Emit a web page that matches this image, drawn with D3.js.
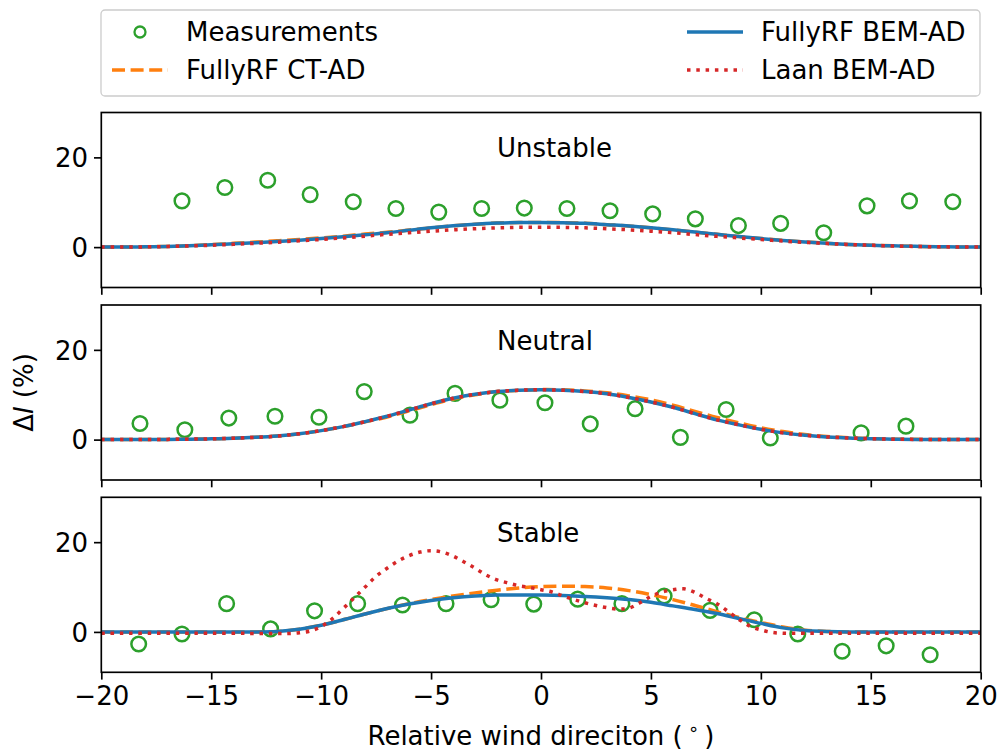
<!DOCTYPE html>
<html><head><meta charset="utf-8">
<script src="https://cdn.jsdelivr.net/npm/d3@7"></script>
<style>body{margin:0;background:#fff}svg{display:block}text{font-family:"DejaVu Sans",sans-serif}</style>
</head><body><svg id="c" width="999" height="753"></svg>
<script>
// ---------- DATA ----------
const xGrid = [-20,-19,-18,-17,-16,-15,-14,-13,-12,-11,-10,-9,-8,-7,-6,-5,-4,-3,-2,-1,0,1,2,3,4,5,6,7,8,9,10,11,12,13,14,15,16,17,18,19,20];
const xTicks = [-20,-15,-10,-5,0,5,10,15,20];
const yTicks = [0,20];
const panelNames = ["Unstable","Neutral","Stable"];
const seriesNames = ["Measurements","FullyRF CT-AD","FullyRF BEM-AD","Laan BEM-AD"];

// Unstable
const measUnstableX = [-16.33,-14.38,-12.43,-10.5,-8.54,-6.6,-4.65,-2.7,-0.76,1.18,3.14,5.08,7.02,8.98,10.9,12.86,14.83,16.76,18.73];
const measUnstableY = [10.3,13.3,14.9,11.7,10.1,8.6,7.8,8.6,8.7,8.6,8.1,7.4,6.3,4.8,5.3,3.2,9.2,10.3,10.1];
const ctUnstable  = [0,0.02,0.07,0.16,0.32,0.55,0.85,1.12,1.4,1.7,2.05,2.45,2.9,3.3,3.8,4.3,4.75,5.1,5.35,5.5,5.5,5.45,5.3,5.0,4.7,4.3,3.85,3.35,2.85,2.35,1.9,1.5,1.15,0.85,0.6,0.42,0.28,0.17,0.09,0.04,0];
const bemUnstable = [0,0.02,0.06,0.15,0.3,0.5,0.75,1.0,1.25,1.55,1.9,2.3,2.75,3.2,3.75,4.3,4.75,5.1,5.35,5.5,5.5,5.45,5.3,5.0,4.7,4.3,3.85,3.35,2.85,2.35,1.9,1.5,1.15,0.85,0.6,0.42,0.28,0.17,0.09,0.04,0];
const laanUnstable = [0,0.02,0.06,0.13,0.25,0.42,0.62,0.85,1.1,1.4,1.7,2.05,2.45,2.85,3.2,3.55,3.85,4.1,4.3,4.4,4.4,4.4,4.3,4.1,3.85,3.55,3.2,2.8,2.4,2.05,1.7,1.35,1.05,0.8,0.58,0.4,0.26,0.15,0.08,0.03,0];

// Neutral
const measNeutralX = [-18.24,-16.2,-14.2,-12.1,-10.1,-8.04,-5.96,-3.91,-1.87,0.18,2.24,4.28,6.34,8.42,10.43,14.56,16.6];
const measNeutralY = [3.6,2.2,4.8,5.2,5.0,10.7,5.45,10.3,8.8,8.2,3.5,6.9,0.5,6.7,0.37,1.5,3.0];
const ctNeutral  = [0,0,0.02,0.05,0.1,0.18,0.3,0.5,0.8,1.3,2.0,2.9,3.95,5.05,6.4,7.8,9.05,10.0,10.7,11.0,11.15,11.1,10.85,10.45,9.75,8.85,7.65,6.3,4.95,3.75,2.65,1.8,1.15,0.7,0.4,0.22,0.12,0.06,0.02,0,0];
const bemNeutral = [0,0,0.02,0.05,0.1,0.18,0.3,0.5,0.8,1.3,2.0,2.9,4.0,5.2,6.6,8.0,9.2,10.1,10.7,11.0,11.1,11.0,10.7,10.2,9.4,8.4,7.2,5.8,4.4,3.3,2.3,1.5,0.95,0.6,0.35,0.2,0.1,0.05,0.02,0,0];
const laanNeutral = [0,0,0.02,0.05,0.1,0.18,0.3,0.5,0.8,1.3,2.0,2.9,4.0,5.2,6.6,8.0,9.2,10.1,10.7,11.0,11.1,11.0,10.7,10.2,9.4,8.4,7.2,5.8,4.4,3.3,2.3,1.5,0.95,0.6,0.35,0.2,0.1,0.05,0.02,0,0];

// Stable
const measStableX = [-18.3,-16.33,-14.3,-12.3,-10.3,-8.34,-6.3,-4.32,-2.27,-0.33,1.67,3.68,5.6,7.69,9.7,11.68,13.7,15.7,17.7];
const measStableY = [-2.7,-0.45,6.3,0.67,4.7,6.3,6.0,6.3,7.2,6.2,7.3,6.3,8.0,4.8,2.7,-0.45,-4.3,-3.1,-5.1];
const ctStable  = [0,0,0,0,0,0,0,0,0.1,0.6,1.5,2.7,4.0,5.2,6.3,7.2,8.0,8.7,9.3,9.8,10.1,10.2,10.1,9.8,9.2,8.3,7.2,5.9,4.5,3.2,2.1,1.1,0.4,0.1,0,0,0,0,0,0,0];
const bemStable = [0,0,0,0,0,0,0,0,0.1,0.6,1.5,2.7,4.0,5.2,6.2,7.0,7.6,8.0,8.2,8.25,8.2,8.1,7.9,7.6,7.2,6.6,5.8,5.0,4.1,3.0,1.9,0.9,0.3,0.1,0,0,0,0,0,0,0];
const laanStableX = [-20,-15,-12,-11.5,-11,-10.5,-10,-9.5,-9,-8.5,-8,-7.5,-7,-6.5,-6,-5.5,-5,-4.5,-4,-3.5,-3,-2.5,-2,-1.5,-1,-0.5,0,0.5,1,1.5,2,2.5,3,3.5,4,4.5,5,5.5,6,6.5,7,7.5,8,8.5,9,9.5,10,10.5,11,12,20];
const laanStableY = [-0.3,-0.3,-0.35,-0.35,-0.2,0.2,1.2,2.9,5.2,7.6,10.0,12.4,14.2,15.8,17.0,17.8,18.1,17.8,16.9,15.6,14.2,12.7,11.6,10.9,10.3,9.9,9.4,8.9,8.0,7.2,6.5,5.9,5.4,5.1,5.3,6.5,7.9,8.9,9.4,9.6,8.8,7.5,6.3,4.6,2.8,1.3,0.45,-0.1,-0.3,-0.3,-0.3];

const panels = [
  {name: panelNames[0], mx: measUnstableX, my: measUnstableY, ct: xGrid.map((x,i)=>[x,ctUnstable[i]]), bem: xGrid.map((x,i)=>[x,bemUnstable[i]]), laan: xGrid.map((x,i)=>[x,laanUnstable[i]])},
  {name: panelNames[1], mx: measNeutralX, my: measNeutralY, ct: xGrid.map((x,i)=>[x,ctNeutral[i]]), bem: xGrid.map((x,i)=>[x,bemNeutral[i]]), laan: xGrid.map((x,i)=>[x,laanNeutral[i]])},
  {name: panelNames[2], mx: measStableX, my: measStableY, ct: xGrid.map((x,i)=>[x,ctStable[i]]), bem: xGrid.map((x,i)=>[x,bemStable[i]]), laan: laanStableX.map((x,i)=>[x,laanStableY[i]])}
];

// ---------- LAYOUT ----------
const C = {green:"#2ca02c", orange:"#ff7f0e", blue:"#1f77b4", red:"#d62728"};
const FS = 26;
const left = 101.3, right = 980.7;
const tops = [112.5, 305, 497.3], H = 175;
const svg = d3.select("#c");
const x = d3.scaleLinear().domain([-20,20]).range([left,right]);
const fmt = d => d < 0 ? "\u2212" + Math.abs(d) : String(d);

panels.forEach((p, k) => {
  const top = tops[k], bottom = top + H;
  const y = d3.scaleLinear().domain([-9,30]).range([bottom, top]);
  const g = svg.append("g");
  const cid = "clip" + k;
  g.append("clipPath").attr("id", cid).append("rect").attr("x", left).attr("y", top).attr("width", right-left).attr("height", H);
  const plot = g.append("g").attr("clip-path", `url(#${cid})`);
  const line = d3.line().x(d=>x(d[0])).y(d=>y(d[1])).curve(d3.curveCatmullRom);

  plot.selectAll("circle").data(p.mx.map((v,i)=>[v,p.my[i]])).join("circle")
    .attr("cx", d=>x(d[0])).attr("cy", d=>y(d[1])).attr("r", 7.3)
    .attr("fill","none").attr("stroke",C.green).attr("stroke-width",2.5);
  plot.append("path").attr("d", line(p.ct)).attr("fill","none").attr("stroke",C.orange).attr("stroke-width",3.5).attr("stroke-dasharray","13,5.6");
  plot.append("path").attr("d", line(p.bem)).attr("fill","none").attr("stroke",C.blue).attr("stroke-width",3.5).attr("stroke-linejoin","round");
  plot.append("path").attr("d", line(p.laan)).attr("fill","none").attr("stroke",C.red).attr("stroke-width",3.5).attr("stroke-dasharray","3.5,5.8");

  // title
  g.append("text").attr("x", x(-2)).attr("y", y(20)).attr("font-size", FS).text(p.name);

  // axes
  const xa = d3.axisBottom(x).tickValues(xTicks).tickSize(7.3).tickPadding(6).tickFormat(k===2 ? fmt : "");
  const gx = g.append("g").attr("transform", `translate(0,${bottom})`).call(xa);
  const ya = d3.axisLeft(y).tickValues(yTicks).tickSize(7.3).tickPadding(6);
  const gy = g.append("g").attr("transform", `translate(${left},0)`).call(ya);
  [gx, gy].forEach(a => {
    a.select(".domain").remove();
    a.selectAll(".tick line").attr("stroke","#000").attr("stroke-width",1.67);
    a.selectAll(".tick text").attr("font-size", FS).attr("fill","#000").attr("font-family","DejaVu Sans");
  });
  gy.selectAll(".tick text").attr("dy","0.36em");
  gx.selectAll(".tick text").attr("dy","0.74em");
  g.append("rect").attr("x", left).attr("y", top).attr("width", right-left).attr("height", H)
    .attr("fill","none").attr("stroke","#000").attr("stroke-width",1.67);
});

// axis labels
svg.append("text").attr("x", (left+right)/2).attr("y", 745).attr("text-anchor","middle").attr("font-size", FS)
  .html('Relative wind direciton (\u2009<tspan font-size="18" dy="-10">\u2218</tspan><tspan dy="10">\u2009)</tspan>');
const yl = svg.append("text").attr("transform", `translate(33,${(tops[1]+H/2)}) rotate(-90)`).attr("text-anchor","middle").attr("font-size", FS);
yl.append("tspan").text("\u0394");
yl.append("tspan").attr("font-style","italic").text("I");
yl.append("tspan").text(" (%)");

// legend
const lg = svg.append("g");
lg.append("rect").attr("x",101).attr("y",10).attr("width",879).attr("height",86).attr("rx",4)
  .attr("fill","#fff").attr("fill-opacity",0.8).attr("stroke","#cccccc").attr("stroke-width",1.3);
const legItems = [
  {name: seriesNames[0], kind:"marker", lx:112, ty:32},
  {name: seriesNames[1], kind:"dash", lx:112, ty:70},
  {name: seriesNames[2], kind:"solid", lx:687, ty:32},
  {name: seriesNames[3], kind:"dot", lx:687, ty:70}
];
legItems.forEach(it => {
  if (it.kind === "marker") {
    lg.append("circle").attr("cx", it.lx+28).attr("cy", it.ty).attr("r",5.5).attr("fill","none").attr("stroke",C.green).attr("stroke-width",2.3);
  } else {
    const col = it.kind==="dash"?C.orange:it.kind==="solid"?C.blue:C.red;
    const da = it.kind==="dash"?"13,5.6":it.kind==="dot"?"3.5,5.8":null;
    lg.append("line").attr("x1",it.lx).attr("x2",it.lx+56).attr("y1",it.ty).attr("y2",it.ty)
      .attr("stroke",col).attr("stroke-width",3.5).attr("stroke-dasharray",da);
  }
  lg.append("text").attr("x", it.lx+74).attr("y", it.ty+9).attr("font-size", FS).text(it.name);
});
</script></body></html>
